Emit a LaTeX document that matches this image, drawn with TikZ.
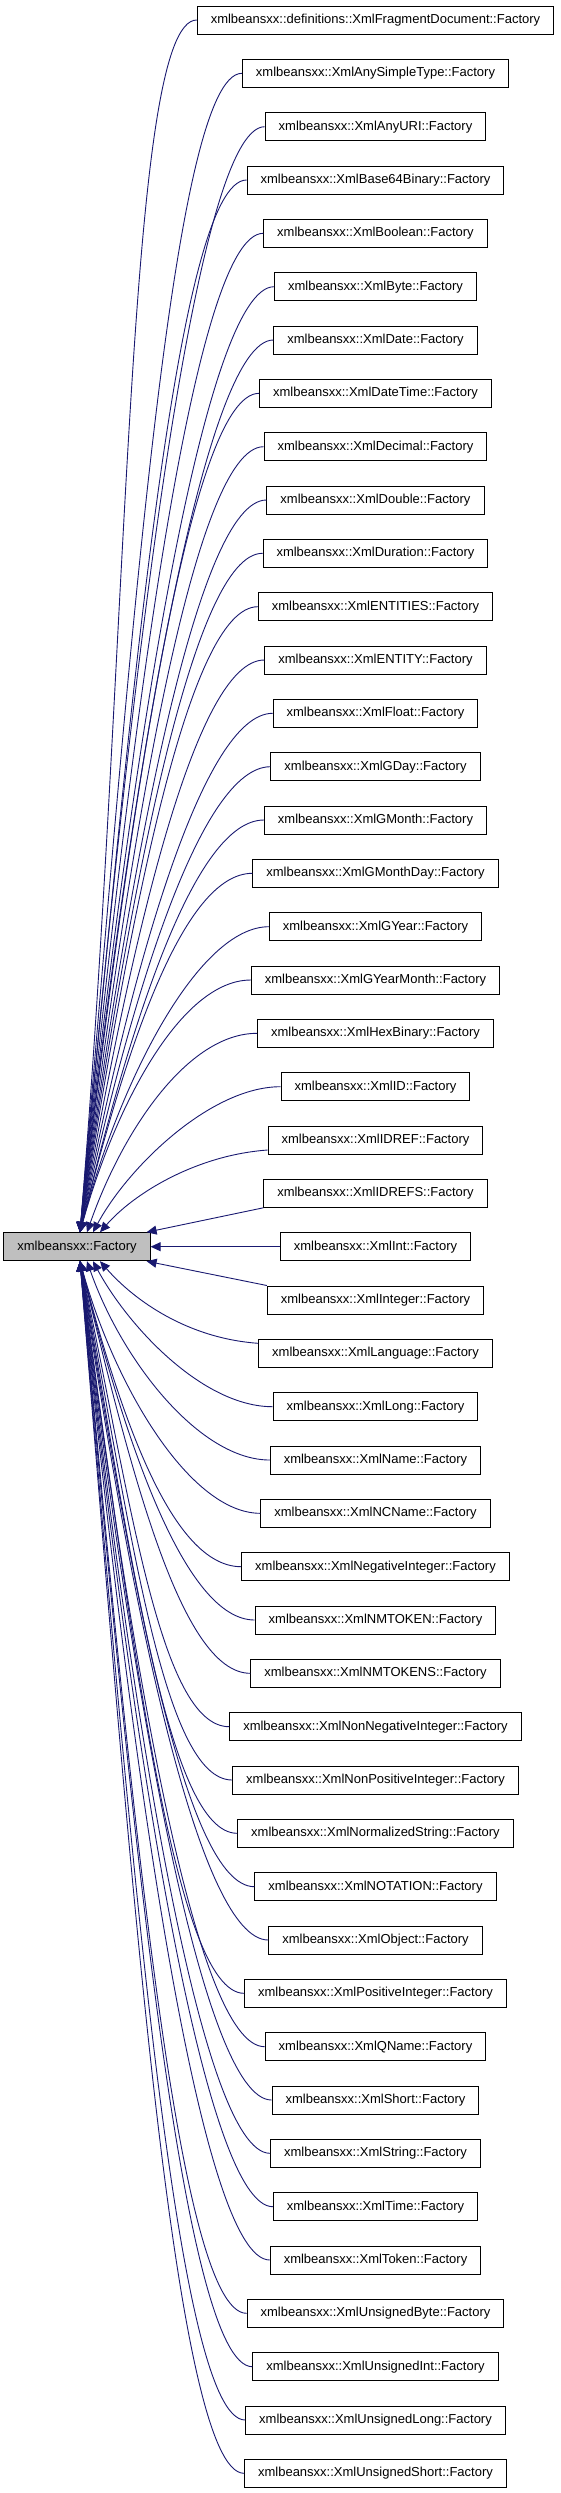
\documentclass[tikz,border=0pt]{standalone}
\usepackage{fontspec}
\setmainfont{Liberation Sans}
\usetikzlibrary{arrows.meta}
\definecolor{edgeblue}{RGB}{25,25,112}
\definecolor{basefill}{RGB}{191,191,191}

\begin{document}
\begin{tikzpicture}[x=1pt, y=1pt,
  cls/.style={draw=black, line width=1pt, fill=white,
              inner xsep=13.5pt, inner ysep=0pt, minimum height=28pt,
              font=\fontsize{13}{15}\selectfont},
  basecls/.style={cls, fill=basefill, minimum width=144pt},
  inh/.style={-{Triangle[length=10pt, width=9pt]}, edgeblue, line width=0.9pt}]
  \useasboundingbox (0,0) rectangle (560,-2493);
  % base class
  \node[basecls] (factory) at (77,-1246.7) {xmlbeansxx::Factory};
  % derived factories, one row each
  \node[cls] (fragdoc)        at (375.5,-20)     {xmlbeansxx::definitions::XmlFragmentDocument::Factory};
  \node[cls] (anysimpletype)  at (375.5,-73.3)   {xmlbeansxx::XmlAnySimpleType::Factory};
  \node[cls] (anyuri)         at (375.5,-126.7)  {xmlbeansxx::XmlAnyURI::Factory};
  \node[cls] (base64binary)   at (375.5,-180)    {xmlbeansxx::XmlBase64Binary::Factory};
  \node[cls] (boolean)        at (375.5,-233.3)  {xmlbeansxx::XmlBoolean::Factory};
  \node[cls] (byte)           at (375.5,-286.7)  {xmlbeansxx::XmlByte::Factory};
  \node[cls] (date)           at (375.5,-340)    {xmlbeansxx::XmlDate::Factory};
  \node[cls] (datetime)       at (375.5,-393.3)  {xmlbeansxx::XmlDateTime::Factory};
  \node[cls] (decimal)        at (375.5,-446.7)  {xmlbeansxx::XmlDecimal::Factory};
  \node[cls] (double)         at (375.5,-500)    {xmlbeansxx::XmlDouble::Factory};
  \node[cls] (duration)       at (375.5,-553.3)  {xmlbeansxx::XmlDuration::Factory};
  \node[cls] (entities)       at (375.5,-606.7)  {xmlbeansxx::XmlENTITIES::Factory};
  \node[cls] (entity)         at (375.5,-660)    {xmlbeansxx::XmlENTITY::Factory};
  \node[cls] (float)          at (375.5,-713.3)  {xmlbeansxx::XmlFloat::Factory};
  \node[cls] (gday)           at (375.5,-766.7)  {xmlbeansxx::XmlGDay::Factory};
  \node[cls] (gmonth)         at (375.5,-820)    {xmlbeansxx::XmlGMonth::Factory};
  \node[cls] (gmonthday)      at (375.5,-873.3)  {xmlbeansxx::XmlGMonthDay::Factory};
  \node[cls] (gyear)          at (375.5,-926.7)  {xmlbeansxx::XmlGYear::Factory};
  \node[cls] (gyearmonth)     at (375.5,-980)    {xmlbeansxx::XmlGYearMonth::Factory};
  \node[cls] (hexbinary)      at (375.5,-1033.3) {xmlbeansxx::XmlHexBinary::Factory};
  \node[cls] (id)             at (375.5,-1086.7) {xmlbeansxx::XmlID::Factory};
  \node[cls] (idref)          at (375.5,-1140)   {xmlbeansxx::XmlIDREF::Factory};
  \node[cls] (idrefs)         at (375.5,-1193.3) {xmlbeansxx::XmlIDREFS::Factory};
  \node[cls] (int)            at (375.5,-1246.7) {xmlbeansxx::XmlInt::Factory};
  \node[cls] (integer)        at (375.5,-1300)   {xmlbeansxx::XmlInteger::Factory};
  \node[cls] (language)       at (375.5,-1353.3) {xmlbeansxx::XmlLanguage::Factory};
  \node[cls] (long)           at (375.5,-1406.7) {xmlbeansxx::XmlLong::Factory};
  \node[cls] (name)           at (375.5,-1460)   {xmlbeansxx::XmlName::Factory};
  \node[cls] (ncname)         at (375.5,-1513.3) {xmlbeansxx::XmlNCName::Factory};
  \node[cls] (neginteger)     at (375.5,-1566.7) {xmlbeansxx::XmlNegativeInteger::Factory};
  \node[cls] (nmtoken)        at (375.5,-1620)   {xmlbeansxx::XmlNMTOKEN::Factory};
  \node[cls] (nmtokens)       at (375.5,-1673.3) {xmlbeansxx::XmlNMTOKENS::Factory};
  \node[cls] (nonneginteger)  at (375.5,-1726.7) {xmlbeansxx::XmlNonNegativeInteger::Factory};
  \node[cls] (nonposinteger)  at (375.5,-1780)   {xmlbeansxx::XmlNonPositiveInteger::Factory};
  \node[cls] (normstring)     at (375.5,-1833.3) {xmlbeansxx::XmlNormalizedString::Factory};
  \node[cls] (notation)       at (375.5,-1886.7) {xmlbeansxx::XmlNOTATION::Factory};
  \node[cls] (object)         at (375.5,-1940)   {xmlbeansxx::XmlObject::Factory};
  \node[cls] (posinteger)     at (375.5,-1993.3) {xmlbeansxx::XmlPositiveInteger::Factory};
  \node[cls] (qname)          at (375.5,-2046.7) {xmlbeansxx::XmlQName::Factory};
  \node[cls] (short)          at (375.5,-2100)   {xmlbeansxx::XmlShort::Factory};
  \node[cls] (string)         at (375.5,-2153.3) {xmlbeansxx::XmlString::Factory};
  \node[cls] (time)           at (375.5,-2206.7) {xmlbeansxx::XmlTime::Factory};
  \node[cls] (token)          at (375.5,-2260)   {xmlbeansxx::XmlToken::Factory};
  \node[cls] (ubyte)          at (375.5,-2313.3) {xmlbeansxx::XmlUnsignedByte::Factory};
  \node[cls] (uint)           at (375.5,-2366.7) {xmlbeansxx::XmlUnsignedInt::Factory};
  \node[cls] (ulong)          at (375.5,-2420)   {xmlbeansxx::XmlUnsignedLong::Factory};
  \node[cls] (ushort)         at (375.5,-2473.3) {xmlbeansxx::XmlUnsignedShort::Factory};
  % edges into the top of the base
  \draw[inh] (fragdoc.west) .. controls +(-70,0) and +(50,606) .. ([xshift=3pt]factory.north);
  \draw[inh] (anysimpletype.west) .. controls +(-70,0) and +(50,580) .. ([xshift=3pt]factory.north);
  \draw[inh] (anyuri.west) .. controls +(-70,0) and +(50,553) .. ([xshift=3pt]factory.north);
  \draw[inh] (base64binary.west) .. controls +(-70,0) and +(50,526) .. ([xshift=3pt]factory.north);
  \draw[inh] (boolean.west) .. controls +(-70,0) and +(50,500) .. ([xshift=3pt]factory.north);
  \draw[inh] (byte.west) .. controls +(-70,0) and +(50,473) .. ([xshift=3pt]factory.north);
  \draw[inh] (date.west) .. controls +(-70,0) and +(50,446) .. ([xshift=3pt]factory.north);
  \draw[inh] (datetime.west) .. controls +(-70,0) and +(50,420) .. ([xshift=3pt]factory.north);
  \draw[inh] (decimal.west) .. controls +(-70,0) and +(50,393) .. ([xshift=3pt]factory.north);
  \draw[inh] (double.west) .. controls +(-70,0) and +(50,366) .. ([xshift=3pt]factory.north);
  \draw[inh] (duration.west) .. controls +(-70,0) and +(50,340) .. ([xshift=3pt]factory.north);
  \draw[inh] (entities.west) .. controls +(-70,0) and +(50,313) .. ([xshift=3pt]factory.north);
  \draw[inh] (entity.west) .. controls +(-70,0) and +(50,286) .. ([xshift=3pt]factory.north);
  \draw[inh] (float.west) .. controls +(-70,0) and +(50,260) .. ([xshift=3pt]factory.north);
  \draw[inh] (gday.west) .. controls +(-70,0) and +(50,233) .. ([xshift=3pt]factory.north);
  \draw[inh] (gmonth.west) .. controls +(-70,0) and +(50,206) .. ([xshift=3pt]factory.north);
  \draw[inh] (gmonthday.west) .. controls +(-70,0) and +(45,180) .. ([xshift=3pt]factory.north);
  \draw[inh] (gyear.west) .. controls +(-70,0) and +(40,153) .. ([xshift=3pt]factory.north);
  \draw[inh] (gyearmonth.west) .. controls +(-70,0) and +(35,126) .. ([xshift=3pt]factory.north);
  \draw[inh] (hexbinary.west) .. controls +(-70,0) and +(35,100) .. ([xshift=10pt]factory.north);
  \draw[inh] (id.west) .. controls +(-70,0) and +(35,65) .. ([xshift=16pt]factory.north);
  \draw[inh] ([yshift=-10pt]idref.west) .. controls +(-70,-5) and +(35,40) .. ([xshift=23pt]factory.north);
  % the three nearest rows
  \draw[inh] (idrefs.south west) -- ([xshift=-4pt]factory.north east);
  \draw[inh] (int.west) -- (factory.east);
  \draw[inh] (integer.north west) -- ([xshift=-4pt]factory.south east);
  % edges into the bottom of the base
  \draw[inh] ([yshift=10pt]language.west) .. controls +(-70,5) and +(35,-40) .. ([xshift=23pt]factory.south);
  \draw[inh] (long.west) .. controls +(-70,0) and +(35,-65) .. ([xshift=16pt]factory.south);
  \draw[inh] (name.west) .. controls +(-70,0) and +(35,-100) .. ([xshift=10pt]factory.south);
  \draw[inh] (ncname.west) .. controls +(-70,0) and +(35,-126) .. ([xshift=3pt]factory.south);
  \draw[inh] (neginteger.west) .. controls +(-70,0) and +(40,-153) .. ([xshift=3pt]factory.south);
  \draw[inh] (nmtoken.west) .. controls +(-70,0) and +(45,-180) .. ([xshift=3pt]factory.south);
  \draw[inh] (nmtokens.west) .. controls +(-70,0) and +(50,-206) .. ([xshift=3pt]factory.south);
  \draw[inh] (nonneginteger.west) .. controls +(-70,0) and +(50,-233) .. ([xshift=3pt]factory.south);
  \draw[inh] (nonposinteger.west) .. controls +(-70,0) and +(50,-260) .. ([xshift=3pt]factory.south);
  \draw[inh] (normstring.west) .. controls +(-70,0) and +(50,-286) .. ([xshift=3pt]factory.south);
  \draw[inh] (notation.west) .. controls +(-70,0) and +(50,-313) .. ([xshift=3pt]factory.south);
  \draw[inh] (object.west) .. controls +(-70,0) and +(50,-340) .. ([xshift=3pt]factory.south);
  \draw[inh] (posinteger.west) .. controls +(-70,0) and +(50,-366) .. ([xshift=3pt]factory.south);
  \draw[inh] (qname.west) .. controls +(-70,0) and +(50,-393) .. ([xshift=3pt]factory.south);
  \draw[inh] (short.west) .. controls +(-70,0) and +(50,-420) .. ([xshift=3pt]factory.south);
  \draw[inh] (string.west) .. controls +(-70,0) and +(50,-446) .. ([xshift=3pt]factory.south);
  \draw[inh] (time.west) .. controls +(-70,0) and +(50,-473) .. ([xshift=3pt]factory.south);
  \draw[inh] (token.west) .. controls +(-70,0) and +(50,-500) .. ([xshift=3pt]factory.south);
  \draw[inh] (ubyte.west) .. controls +(-70,0) and +(50,-526) .. ([xshift=3pt]factory.south);
  \draw[inh] (uint.west) .. controls +(-70,0) and +(50,-553) .. ([xshift=3pt]factory.south);
  \draw[inh] (ulong.west) .. controls +(-70,0) and +(50,-580) .. ([xshift=3pt]factory.south);
  \draw[inh] (ushort.west) .. controls +(-70,0) and +(50,-606) .. ([xshift=3pt]factory.south);
\end{tikzpicture}
\end{document}
